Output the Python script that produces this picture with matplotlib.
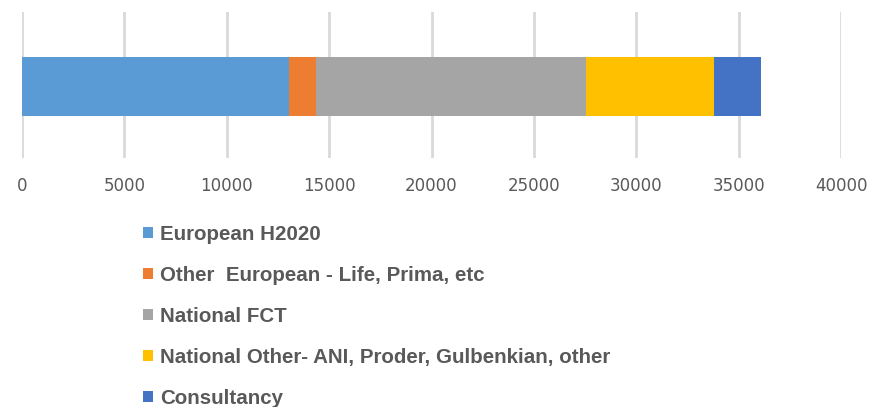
import matplotlib
matplotlib.use("Agg")
import matplotlib.pyplot as plt
from matplotlib.patches import Patch

categories = ["European H2020", "Other  European - Life, Prima, etc", "National FCT",
              "National Other- ANI, Proder, Gulbenkian, other", "Consultancy"]
values = [13055, 1290, 13187, 6252, 2310]
colors = ["#5b9bd5", "#ed7d31", "#a5a5a5", "#ffc000", "#4472c4"]
xticks = [0, 5000, 10000, 15000, 20000, 25000, 30000, 35000, 40000]

fig = plt.figure(figsize=(8.85, 4.07), dpi=100)
ax = fig.add_axes([22/885, 1-158/407, (841-22)/885, 146/407])

left = 0
for cat, v, c in zip(categories, values, colors):
    ax.barh(-0.01, v, left=left, height=0.41, color=c, label=cat, zorder=3)
    left += v

ax.set_xlim(0, 40000)
ax.set_ylim(-0.5, 0.5)
ax.set_xticks(xticks)
ax.set_xticklabels([str(t) for t in xticks], fontsize=12, color="#595959")
ax.set_yticks([])
ax.tick_params(axis="x", length=0, pad=14)
for s in ax.spines.values():
    s.set_visible(False)
ax.grid(axis="x", color="#d9d9d9", linewidth=2, zorder=0)

handles = [Patch(facecolor=c, edgecolor="none") for c in colors]
leg = fig.legend(handles, categories, loc="upper left",
                 bbox_to_anchor=(143/885, 1-225/407), frameon=False,
                 handlelength=0.48, handleheight=0.48, handletextpad=0.36,
                 labelspacing=1.07, borderpad=0, borderaxespad=0,
                 prop={"family": "Liberation Sans", "weight": "bold", "size": 14.8})
for t in leg.get_texts():
    t.set_color("#595959")

fig.savefig("out.png", dpi=100)
